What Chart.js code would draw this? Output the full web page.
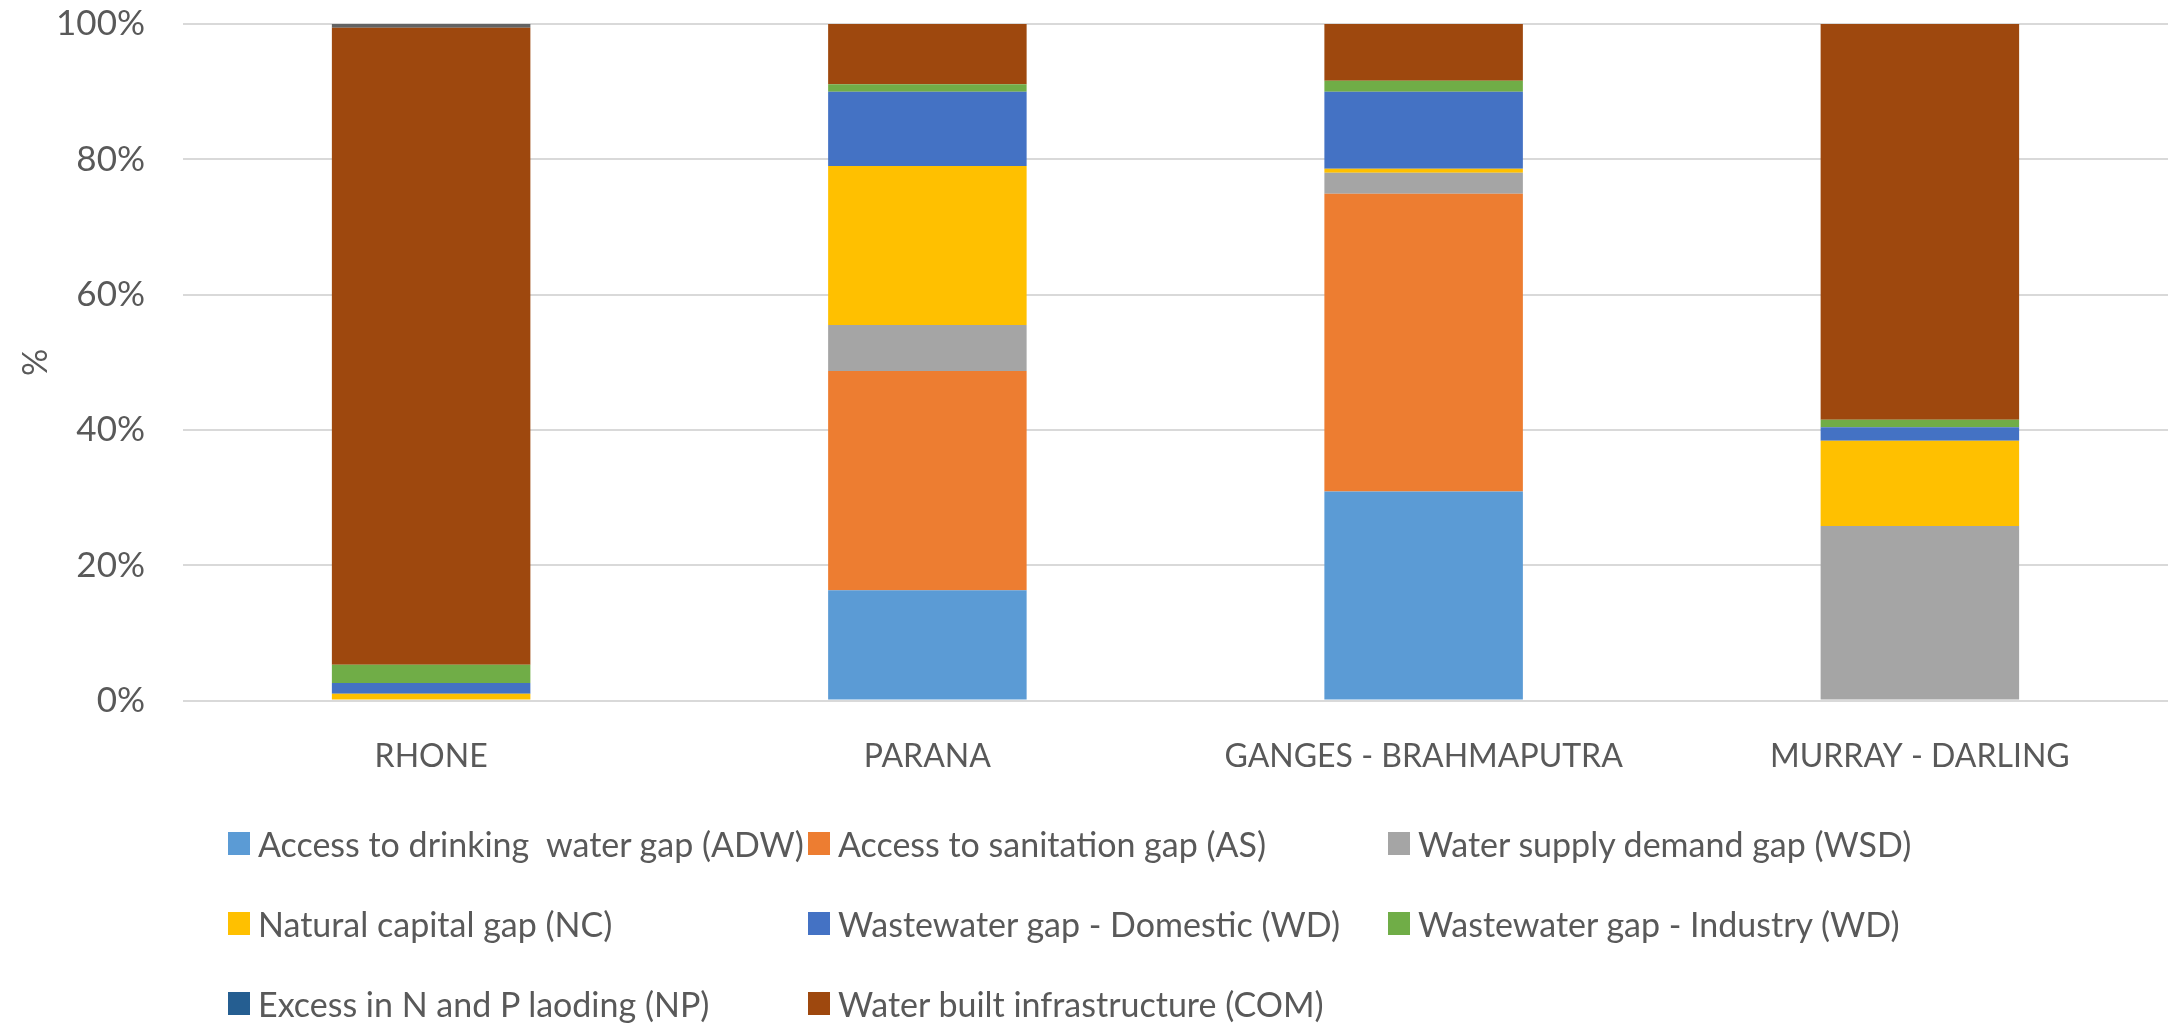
<!DOCTYPE html>
<html>
<head>
<meta charset="utf-8">
<script src="https://cdn.jsdelivr.net/npm/chart.js@4/dist/chart.umd.min.js"></script>
<style>
  html, body { margin: 0; padding: 0; background: #fff; }
  #wrap { position: relative; width: 2172px; height: 1024px; }
  #chartBox { position: absolute; left: 0; top: 0; width: 2172px; height: 813px; }
  #legend {
    position: absolute; left: 228px; top: 803px;
    display: grid; grid-template-columns: 580px 580px 580px; grid-auto-rows: 80px;
    font-family: Lato, "Liberation Sans", Arial, sans-serif;
    font-size: 34px; color: #595959;
  }
  #legend .item { display: flex; align-items: center; white-space: pre; }
  #legend .box { width: 22px; height: 23px; margin-right: 8px; flex: none; }
</style>
</head>
<body>
<div id="wrap">
  <div id="chartBox"><canvas id="chart"></canvas></div>
  <div id="legend"></div>
</div>
<script>
document.addEventListener('DOMContentLoaded', function() {
  const basins = ['RHONE', 'PARANA', 'GANGES - BRAHMAPUTRA', 'MURRAY - DARLING'];

  // shares in %, bottom to top
  const adw = [0, 16.3, 30.9, 0];
  const as = [0, 32.4, 44.0, 0];
  const wsd = [0, 6.8, 3.1, 25.8];
  const nc = [1.0, 23.5, 0.6, 12.6];
  const wdDomestic = [1.6, 11.0, 11.4, 2.0];
  const wdIndustry = [2.7, 1.1, 1.6, 1.1];
  const np = [0, 0, 0, 0];
  const com = [94.15, 8.9, 8.4, 58.5];
  const other = [0.55, 0, 0, 0]; // unlabelled series on top of Rhone

  const yTicks = [0, 20, 40, 60, 80, 100];

  const series = [
    { label: 'Access to drinking  water gap (ADW)', data: adw, color: '#5B9BD5' },
    { label: 'Access to sanitation gap (AS)', data: as, color: '#ED7D31' },
    { label: 'Water supply demand gap (WSD)', data: wsd, color: '#A5A5A5' },
    { label: 'Natural capital gap (NC)', data: nc, color: '#FFC000' },
    { label: 'Wastewater gap - Domestic (WD)', data: wdDomestic, color: '#4472C4' },
    { label: 'Wastewater gap - Industry (WD)', data: wdIndustry, color: '#70AD47' },
    { label: 'Excess in N and P laoding (NP)', data: np, color: '#255E91' },
    { label: 'Water built infrastructure (COM)', data: com, color: '#9E480E' },
    { label: '', data: other, color: '#636363', hidden: true }
  ];

  const font = "Lato, 'Liberation Sans', Arial, sans-serif";
  const textColor = '#595959';

  const datasets = series.map(function(s) {
    return {
      label: s.label,
      data: s.data,
      backgroundColor: s.color,
      borderWidth: 0,
      categoryPercentage: 1.0,
      barPercentage: 0.4
    };
  });

  new Chart(document.getElementById('chart').getContext('2d'), {
    type: 'bar',
    data: { labels: basins, datasets: datasets },
    options: {
      responsive: true,
      maintainAspectRatio: false,
      animation: false,
      layout: { padding: { top: 24, right: 4, left: 0, bottom: 0 } },
      plugins: {
        legend: { display: false },
        tooltip: { enabled: false }
      },
      scales: {
        x: {
          stacked: true,
          grid: { display: false, drawTicks: false },
          border: { display: false },
          ticks: {
            color: textColor,
            font: { family: font, size: 32 },
            padding: 37,
            maxRotation: 0,
            autoSkip: false
          }
        },
        y: {
          stacked: true,
          min: 0,
          max: 100,
          afterBuildTicks: function(scale) {
            scale.ticks = yTicks.map(function(v) { return { value: v }; });
          },
          afterFit: function(scale) { scale.width = 183; },
          grid: { color: '#D9D9D9', lineWidth: 2, drawTicks: true, tickLength: 38, tickColor: 'rgba(0,0,0,0)' },
          border: { display: false },
          ticks: {
            color: textColor,
            font: { family: font, size: 35 },
            padding: 0,
            callback: function(v) { return v + '%'; }
          },
          title: {
            display: true,
            text: '%',
            color: textColor,
            font: { family: font, size: 34 },
            padding: { top: 16, bottom: 0 }
          }
        }
      }
    }
  });

  // legend laid out in three columns like the original
  const legend = document.getElementById('legend');
  series.forEach(function(s) {
    if (s.hidden) return;
    const item = document.createElement('div');
    item.className = 'item';
    const box = document.createElement('span');
    box.className = 'box';
    box.style.background = s.color;
    const txt = document.createElement('span');
    txt.textContent = s.label;
    item.appendChild(box);
    item.appendChild(txt);
    legend.appendChild(item);
  });
});
</script>
</body>
</html>
